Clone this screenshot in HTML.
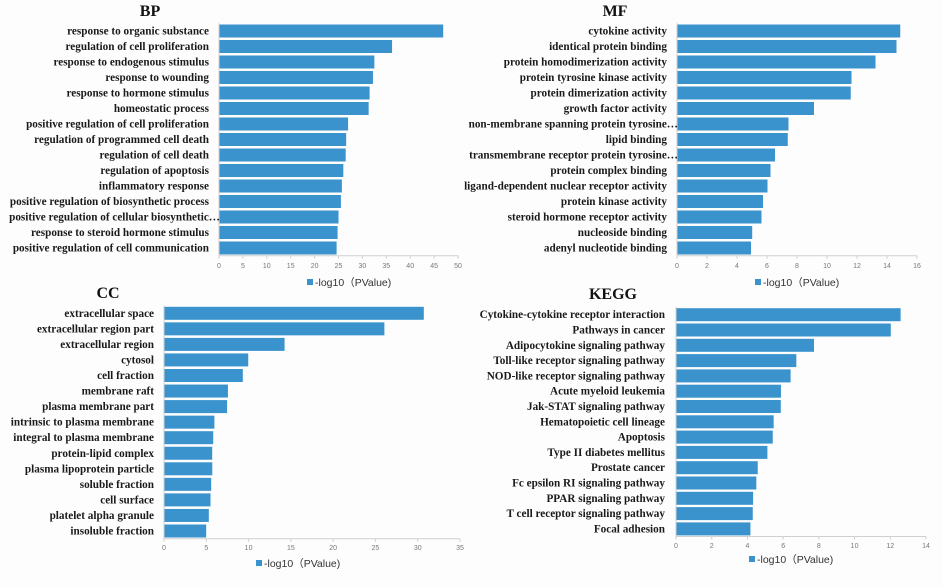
<!DOCTYPE html>
<html><head><meta charset="utf-8"><style>
html,body{margin:0;padding:0;background:#fff;}
svg{display:block;}
.lbl{font-family:"Liberation Serif",serif;font-weight:bold;font-size:11.2px;fill:#1a1a1a;}
.ttl{font-family:"Liberation Serif",serif;font-weight:bold;font-size:16px;fill:#111;}
.tk{font-family:"Liberation Sans",sans-serif;font-size:7px;fill:#777;}
.lg{font-family:"Liberation Sans","Noto Sans CJK SC",sans-serif;font-size:10.5px;fill:#333;}
</style></head><body>
<svg id="chart" width="943" height="587" viewBox="0 0 943 587" xmlns="http://www.w3.org/2000/svg">
<rect width="943" height="587" fill="#fdfdfd"/>
</svg>
<script>
const bpCategories=["response to organic substance","regulation of cell proliferation","response to endogenous stimulus","response to wounding","response to hormone stimulus","homeostatic process","positive regulation of cell proliferation","regulation of programmed cell death","regulation of cell death","regulation of apoptosis","inflammatory response","positive regulation of biosynthetic process","positive regulation of cellular biosynthetic…","response to steroid hormone stimulus","positive regulation of cell communication"];
const bpValues=[46.8,36.1,32.4,32.1,31.4,31.2,26.9,26.5,26.4,25.9,25.6,25.4,24.9,24.7,24.5];
const bpTicks=[0,5,10,15,20,25,30,35,40,45,50];
const mfCategories=["cytokine activity","identical protein binding","protein homodimerization activity","protein tyrosine kinase activity","protein dimerization activity","growth factor activity","non-membrane spanning protein tyrosine…","lipid binding","transmembrane receptor protein tyrosine…","protein complex binding","ligand-dependent nuclear receptor activity","protein kinase activity","steroid hormone receptor activity","nucleoside binding","adenyl nucleotide binding"];
const mfValues=[14.85,14.6,13.2,11.6,11.55,9.1,7.4,7.35,6.5,6.2,6.0,5.7,5.6,4.98,4.9];
const mfTicks=[0,2,4,6,8,10,12,14,16];
const ccCategories=["extracellular space","extracellular region part","extracellular region","cytosol","cell fraction","membrane raft","plasma membrane part","intrinsic to plasma membrane","integral to plasma membrane","protein-lipid complex","plasma lipoprotein particle","soluble fraction","cell surface","platelet alpha granule","insoluble fraction"];
const ccValues=[30.66,26.0,14.2,9.9,9.26,7.5,7.4,5.9,5.76,5.64,5.65,5.52,5.44,5.24,4.93];
const ccTicks=[0,5,10,15,20,25,30,35];
const keggCategories=["Cytokine-cytokine receptor interaction","Pathways in cancer","Adipocytokine signaling pathway","Toll-like receptor signaling pathway","NOD-like receptor signaling pathway","Acute myeloid leukemia","Jak-STAT signaling pathway","Hematopoietic cell lineage","Apoptosis","Type II diabetes mellitus","Prostate cancer","Fc epsilon RI signaling pathway","PPAR signaling pathway","T cell receptor signaling pathway","Focal adhesion"];
const keggValues=[12.55,12.0,7.7,6.71,6.39,5.85,5.84,5.44,5.39,5.09,4.55,4.47,4.29,4.27,4.14];
const keggTicks=[0,2,4,6,8,10,12,14];

const NS="http://www.w3.org/2000/svg";
const svg=document.getElementById('chart');
function mk(tag,attrs,parent){const e=document.createElementNS(NS,tag);for(const k in attrs)e.setAttribute(k,attrs[k]);(parent||svg).appendChild(e);return e;}

function panel(key,title,cats,vals,ticks,p){
  const g=mk('g',{});
  
  
  const max=ticks[ticks.length-1];
  const xs=v=>p.x0+(v/max)*(p.x1-p.x0);
  const ys=i=>p.yFirst+i*p.pitch;
  const t=mk('text',{x:p.tx,y:p.ty,'text-anchor':'middle',class:'ttl'},g);t.textContent=title;
  
  
  const top=ys(0)-p.pitch/2, bot=ys(cats.length-1)+p.pitch/2;
  const ax=mk('line',{x1:p.x0,y1:top,x2:p.x0,y2:bot,stroke:'#d0d0d0','stroke-width':1},g);
  
  
  const xa=mk('line',{x1:p.x0,y1:bot,x2:p.x1,y2:bot,stroke:'#d0d0d0','stroke-width':1},g);
  
  
  cats.forEach((c,i)=>{
    const y=ys(i);
    const r=mk('rect',{x:p.x0+0.5,y:y-6.5,width:xs(vals[i])-p.x0,height:13,fill:'#3a93cd'},g);
    
    
    const lx=c.endsWith('…')?p.x0+1:p.lx;
    const l=mk('text',{x:lx,y:y+3.5,'text-anchor':'end',class:'lbl'},g);l.textContent=c;
    
    
  });
  ticks.forEach(v=>{
    const tl=mk('text',{x:xs(v),y:p.tickY,'text-anchor':'middle',class:'tk'},g);tl.textContent=v;
    
    
    const tm=mk('line',{x1:xs(v),y1:bot,x2:xs(v),y2:bot+3,stroke:'#d0d0d0'},g);
    
    
  });
  const sq=mk('rect',{x:p.lgx,y:p.lgy-7,width:6,height:6,fill:'#3a93cd'},g);
  
  
  const lt=mk('text',{x:p.lgx+8,y:p.lgy,class:'lg'},g);lt.textContent='-log10（PValue)';
  
  
}
panel('bp','BP',bpCategories,bpValues,bpTicks,{x0:219,x1:458,yFirst:31,pitch:15.5,lx:209,tx:150,ty:16,tickY:268,lgx:307,lgy:286});
panel('mf','MF',mfCategories,mfValues,mfTicks,{x0:677,x1:917,yFirst:31,pitch:15.5,lx:667,tx:615,ty:16,tickY:268,lgx:755,lgy:286});
panel('cc','CC',ccCategories,ccValues,ccTicks,{x0:164,x1:460,yFirst:313.3,pitch:15.55,lx:154,tx:108,ty:298,tickY:550,lgx:256,lgy:567});
panel('kegg','KEGG',keggCategories,keggValues,keggTicks,{x0:676,x1:926,yFirst:314.7,pitch:15.3,lx:665,tx:613,ty:299,tickY:548,lgx:749,lgy:563});
</script>
</body></html>
